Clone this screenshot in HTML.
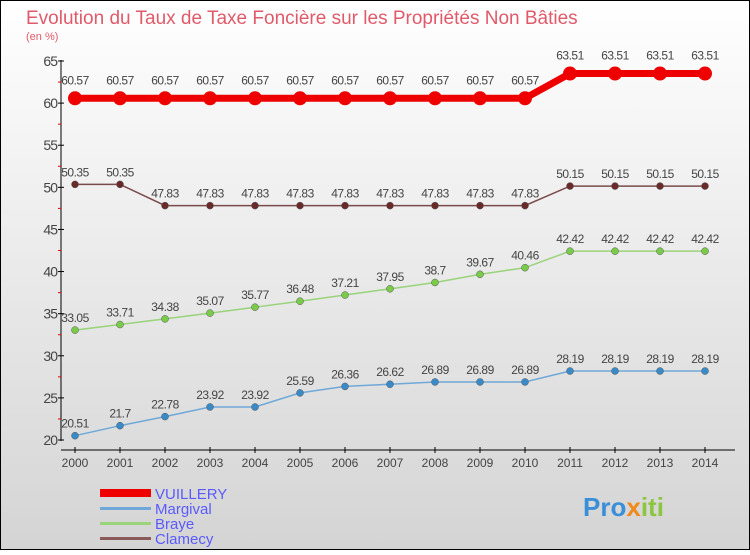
<!DOCTYPE html>
<html><head><meta charset="utf-8"><style>
html,body{margin:0;padding:0}
body{width:750px;height:550px;overflow:hidden;font-family:"Liberation Sans",sans-serif}
</style></head><body>
<svg width="750" height="550" xmlns="http://www.w3.org/2000/svg" font-family="Liberation Sans, sans-serif">
<defs><linearGradient id="bg" x1="0" y1="0" x2="0" y2="1"><stop offset="0" stop-color="#ffffff"/><stop offset="1" stop-color="#d4d4d4"/></linearGradient></defs>
<rect x="0.5" y="0.5" width="749" height="549" fill="url(#bg)" stroke="#000"/>
<text x="26" y="24" font-size="19" fill="#e05a6a">Evolution du Taux de Taxe Foncière sur les Propriétés Non Bâties</text>
<text x="26" y="40" font-size="11" fill="#e05a6a">(en %)</text>
<g id="axes"></g><g id="series"></g>
<g>
<rect x="100" y="489" width="51" height="8" fill="#ee0000"/>
<text x="155" y="499" font-size="15" fill="#5a5aff">VUILLERY</text>
<rect x="100" y="507" width="51" height="3" fill="#6fa8d8"/>
<text x="155" y="514" font-size="15" fill="#5a5aff">Margival</text>
<rect x="100" y="522" width="51" height="3" fill="#99d37a"/>
<text x="155" y="529" font-size="15" fill="#5a5aff">Braye</text>
<rect x="100" y="537" width="51" height="3" fill="#8a5a5a"/>
<text x="155" y="544" font-size="15" fill="#5a5aff">Clamecy</text>
</g>
<text x="583" y="516" font-size="26" font-weight="bold" fill="#3a8fd8">Pro<tspan fill="#f08a1a">x</tspan><tspan fill="#8cc63f">iti</tspan></text>
</svg>
<script>
const years=[2000,2001,2002,2003,2004,2005,2006,2007,2008,2009,2010,2011,2012,2013,2014];
const yTicks=[20,25,30,35,40,45,50,55,60,65];
const vuillery=[60.57,60.57,60.57,60.57,60.57,60.57,60.57,60.57,60.57,60.57,60.57,63.51,63.51,63.51,63.51];
const margival=[20.51,21.7,22.78,23.92,23.92,25.59,26.36,26.62,26.89,26.89,26.89,28.19,28.19,28.19,28.19];
const braye=[33.05,33.71,34.38,35.07,35.77,36.48,37.21,37.95,38.7,39.67,40.46,42.42,42.42,42.42,42.42];
const clamecy=[50.35,50.35,47.83,47.83,47.83,47.83,47.83,47.83,47.83,47.83,47.83,50.15,50.15,50.15,50.15];
const NS="http://www.w3.org/2000/svg";
const xS=i=>75+i*45, yS=v=>440-(v-20)*(379/45);
function mk(t,a,p,txt){const e=document.createElementNS(NS,t);for(const k in a)e.setAttribute(k,a[k]);if(txt!==undefined)e.textContent=txt;p.appendChild(e);return e;}
const ax=document.getElementById('axes');
let e=mk('line',{x1:61,y1:60,x2:61,y2:441,stroke:'#000'},ax);


e=mk('line',{x1:61,y1:450,x2:735,y2:450,stroke:'#000'},ax);


yTicks.forEach((v,i)=>{const y=yS(v);mk('line',{x1:58,y1:y,x2:64,y2:y,stroke:'#000'},ax);
if(i<yTicks.length-1)mk('line',{x1:58,y1:yS(v+2.5),x2:61,y2:yS(v+2.5),stroke:'#e00'},ax);
e=mk('text',{x:57,y:y+5,'font-size':14,fill:'#444','text-anchor':'end','letter-spacing':'-1'},ax,String(v));

});
years.forEach((yr,i)=>{const x=xS(i);mk('line',{x1:x,y1:447,x2:x,y2:453,stroke:'#000'},ax);
e=mk('text',{x:x,y:467,'font-size':12,fill:'#444','text-anchor':'middle'},ax,String(yr));

});
const sg=document.getElementById('series');
function series(name,vals,color,w,r,dot){const g=mk('g',{},sg);


const p=mk('polyline',{points:vals.map((v,i)=>xS(i)+','+yS(v)).join(' '),fill:'none',stroke:color,'stroke-width':w},g);


vals.forEach((v,i)=>{const c=mk('circle',{cx:xS(i),cy:yS(v),r:r,fill:dot,stroke:w>3?'none':'#555','stroke-width':0.5},g);


const t=mk('text',{x:xS(i),y:yS(v)-(w>3?14:8),'font-size':12,fill:'#444','text-anchor':'middle','letter-spacing':'-0.5'},g,String(v));

});}
series('clamecy',clamecy,'#7a4a4a',1.5,3.5,'#6b2a2a');
series('braye',braye,'#99d37a',1.5,3.5,'#7acb4a');
series('margival',margival,'#6fa8d8',1.5,3.5,'#3a8ac8');
series('vuillery',vuillery,'#ee0000',7,7,'#ee0000');
</script>
</body></html>
